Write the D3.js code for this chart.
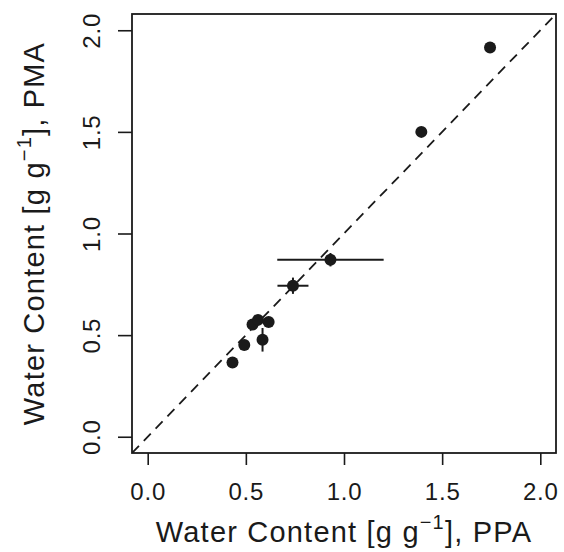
<!DOCTYPE html>
<html>
<head>
<meta charset="utf-8">
<script src="https://cdn.jsdelivr.net/npm/d3@7"></script>
<style>
  body { margin: 0; background: #fff; }
  svg { font-family: "Liberation Sans", Arial, sans-serif; }
</style>
</head>
<body>
<div id="chart"></div>
<script>
// values
const ppa = [0.432, 0.492, 0.534, 0.562, 0.616, 0.585, 0.740, 0.931, 1.394, 1.744];
const pma = [0.365, 0.451, 0.552, 0.575, 0.564, 0.477, 0.743, 0.871, 1.500, 1.915];
const ppaErr = [0, 0, 0, 0, 0, 0, 0.079, 0.271, 0, 0];
const pmaErr = [0, 0, 0, 0, 0, 0.058, 0.04, 0.033, 0, 0];
const ticks = [0, 0.5, 1, 1.5, 2];

const width = 564;
const height = 552;
const margin = { top: 14, right: 8, bottom: 99, left: 132 };
const ink = "#1a1a1a";

const x = d3.scaleLinear()
  .domain([-0.08, 2.08])
  .range([margin.left, width - margin.right]);
const y = d3.scaleLinear()
  .domain([-0.08, 2.08])
  .range([height - margin.bottom, margin.top]);

const data = ppa.map((d, i) => ({ x: d, y: pma[i], ex: ppaErr[i], ey: pmaErr[i] }));

const svg = d3.select("#chart")
  .append("svg")
  .attr("width", width)
  .attr("height", height)
  .attr("viewBox", [0, 0, width, height]);

const gX = svg.append("g")
  .attr("transform", `translate(0,${height - margin.bottom})`)
  .call(d3.axisBottom(x).tickValues(ticks).tickFormat(d3.format(".1f")).tickSize(12))
  .call((g) => g.select(".domain").remove())
  .attr("font-size", 24)
  .attr("font-family", null);
gX.selectAll("line").attr("stroke", ink).attr("stroke-width", 1.6);
gX.selectAll("text")
  .attr("fill", ink)
  .attr("y", 47)
  .attr("dy", null)
  .attr("letter-spacing", 0.8);

const gY = svg.append("g")
  .attr("transform", `translate(${margin.left},0)`)
  .call(d3.axisLeft(y).tickValues(ticks).tickSize(14).tickFormat(d3.format(".1f")))
  .call((g) => g.select(".domain").remove())
  .attr("font-size", 24)
  .attr("font-family", null);
gY.selectAll("line").attr("stroke", ink).attr("stroke-width", 1.6);
gY.selectAll("text")
  .attr("fill", ink)
  .attr("x", null)
  .attr("dy", null)
  .attr("letter-spacing", 0.8)
  .attr("text-anchor", "middle")
  .attr("transform", "translate(-32,0) rotate(-90)");

// 1:1 line
svg.append("clipPath").attr("id", "clip")
  .append("rect")
  .attr("x", margin.left).attr("y", margin.top)
  .attr("width", width - margin.left - margin.right)
  .attr("height", height - margin.top - margin.bottom);
svg.append("line")
  .attr("clip-path", "url(#clip)")
  .attr("x1", x(-0.08)).attr("y1", y(-0.08))
  .attr("x2", x(2.08)).attr("y2", y(2.08))
  .attr("stroke", ink)
  .attr("stroke-width", 1.8)
  .attr("stroke-dasharray", "10,7");

// error bars
const errs = svg.append("g").attr("stroke", ink).attr("stroke-width", 2);
errs.selectAll(".ex")
  .data(data.filter((d) => d.ex > 0))
  .join("line")
  .attr("x1", (d) => x(d.x - d.ex)).attr("x2", (d) => x(d.x + d.ex))
  .attr("y1", (d) => y(d.y)).attr("y2", (d) => y(d.y));
errs.selectAll(".ey")
  .data(data.filter((d) => d.ey > 0))
  .join("line")
  .attr("x1", (d) => x(d.x)).attr("x2", (d) => x(d.x))
  .attr("y1", (d) => y(d.y - d.ey)).attr("y2", (d) => y(d.y + d.ey));

svg.append("g")
  .selectAll("circle")
  .data(data)
  .join("circle")
  .attr("cx", (d) => x(d.x))
  .attr("cy", (d) => y(d.y))
  .attr("r", 6)
  .attr("fill", ink);

// box
svg.append("rect")
  .attr("x", margin.left).attr("y", margin.top)
  .attr("width", width - margin.left - margin.right)
  .attr("height", height - margin.top - margin.bottom)
  .attr("fill", "none")
  .attr("stroke", ink)
  .attr("stroke-width", 1.8);

function axisTitle(g, tail) {
  g.append("tspan").text("Water Content [g g");
  g.append("tspan").attr("font-size", 20).attr("dy", -13).text("\u22121");
  g.append("tspan").attr("dy", 13).text("], " + tail);
}

svg.append("text")
  .attr("x", (margin.left + width - margin.right) / 2)
  .attr("y", 542)
  .attr("text-anchor", "middle")
  .attr("font-size", 29)
  .attr("letter-spacing", 1.2)
  .attr("fill", ink)
  .call(axisTitle, "PPA");

svg.append("text")
  .attr("text-anchor", "middle")
  .attr("font-size", 29)
  .attr("letter-spacing", 1.2)
  .attr("fill", ink)
  .attr("transform", `translate(44,${(margin.top + height - margin.bottom) / 2}) rotate(-90)`)
  .call(axisTitle, "PMA");
</script>
</body>
</html>
